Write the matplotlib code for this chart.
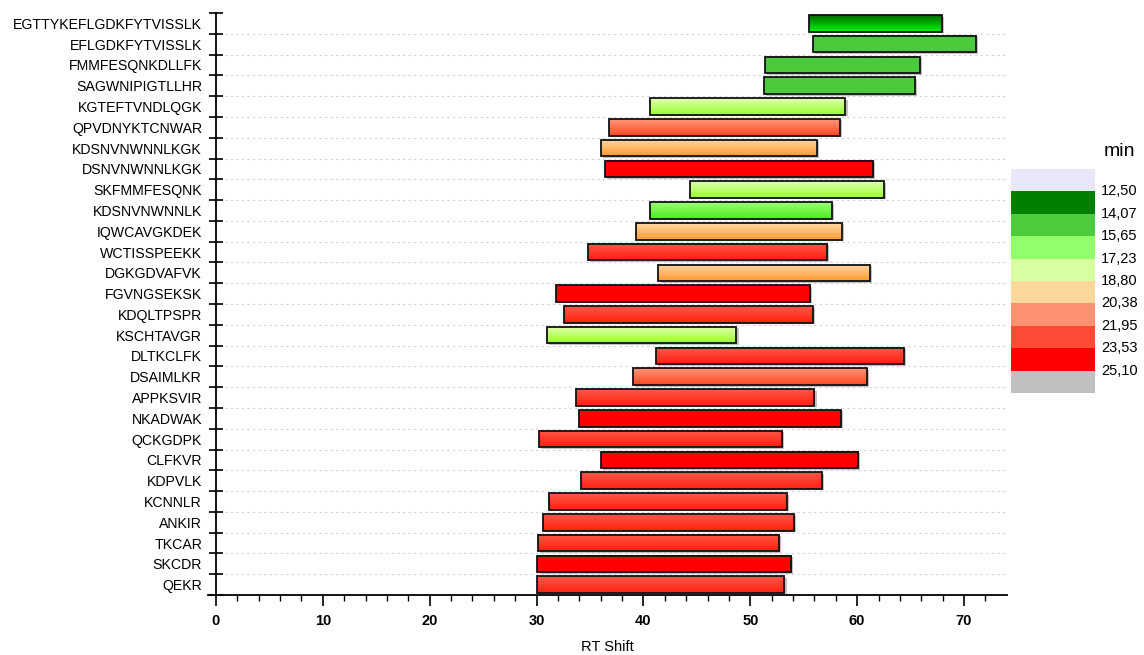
import numpy as np
import matplotlib
matplotlib.use("Agg")
import matplotlib.pyplot as plt
from matplotlib.patches import Rectangle
from matplotlib.colors import to_rgba

plt.rcParams['font.family'] = ['Liberation Sans', 'DejaVu Sans']

# Peptides, top to bottom
peptides = [
    "EGTTYKEFLGDKFYTVISSLK", "EFLGDKFYTVISSLK", "FMMFESQNKDLLFK", "SAGWNIPIGTLLHR",
    "KGTEFTVNDLQGK", "QPVDNYKTCNWAR", "KDSNVNWNNLKGK", "DSNVNWNNLKGK",
    "SKFMMFESQNK", "KDSNVNWNNLK", "IQWCAVGKDEK", "WCTISSPEEKK",
    "DGKGDVAFVK", "FGVNGSEKSK", "KDQLTPSPR", "KSCHTAVGR",
    "DLTKCLFK", "DSAIMLKR", "APPKSVIR", "NKADWAK",
    "QCKGDPK", "CLFKVR", "KDPVLK", "KCNNLR",
    "ANKIR", "TKCAR", "SKCDR", "QEKR",
]

# RT shift window (start, end) for each peptide
rt_start = [55.5, 55.9, 51.4, 51.3, 40.6, 36.8, 36.0, 36.4,
            44.4, 40.6, 39.3, 34.8, 41.4, 31.8, 32.6, 31.0,
            41.2, 39.0, 33.7, 34.0, 30.2, 36.0, 34.2, 31.2,
            30.6, 30.1, 30.0, 30.0]
rt_end = [67.9, 71.1, 65.9, 65.4, 58.9, 58.4, 56.2, 61.5,
          62.5, 57.6, 58.6, 57.2, 61.2, 55.6, 55.9, 48.7,
          64.4, 60.9, 56.0, 58.5, 53.0, 60.1, 56.7, 53.4,
          54.1, 52.7, 53.8, 53.2]

# Retention time (min) used for colouring
rt_min = [13.3, 14.9, 14.9, 14.9, 18.0, 21.2, 19.6, 24.3,
          18.0, 16.4, 19.6, 22.7, 19.6, 24.3, 22.7, 18.0,
          22.7, 21.2, 22.7, 24.3, 22.7, 24.3, 22.7, 22.7,
          22.7, 22.7, 24.3, 22.7]

# Colour scale
scale_edges = [12.50, 14.07, 15.65, 17.23, 18.80, 20.38, 21.95, 23.53, 25.10]
scale_labels = ["12,50", "14,07", "15,65", "17,23", "18,80", "20,38", "21,95", "23,53", "25,10"]
legend_colors = ["#e8e8fa", "#008000", "#4ccc3c", "#92ff6a", "#d8ffa0",
                 "#fdd89c", "#ff9070", "#ff4a35", "#ff0000", "#c0c0c0"]
# Bar shading (top colour, bottom colour) for each bin between edges
bar_shades = [
    ("#006a00", "#00f800"),
    ("#4bca3b", "#4bca3b"),
    ("#9cff74", "#4cec1e"),
    ("#e2ffb4", "#98ff28"),
    ("#ffd8a8", "#ff9a2c"),
    ("#ff967a", "#ff4820"),
    ("#ff5848", "#ff2010"),
    ("#ff0000", "#ff0000"),
]

W, H = 1144, 655
fig = plt.figure(figsize=(W / 100, H / 100), dpi=100)

x_min, x_max = -0.75, 74.0
px_per_unit = 10.686
left_px = 216 + x_min * px_per_unit
right_px = 216 + x_max * px_per_unit
top_px, bottom_px = 13, 595
ax = fig.add_axes([left_px / W, (H - bottom_px) / H,
                   (right_px - left_px) / W, (bottom_px - top_px) / H])

n = len(peptides)
ypos = np.arange(n)[::-1]
bar_h = 0.8

# Row separators
for b in np.arange(0.5, n - 0.5, 1.0):
    ax.axhline(b, color="#d2d2d2", lw=0.8, ls=(0, (2, 3)), zorder=0.5)

for y, s, e, v in zip(ypos, rt_start, rt_end, rt_min):
    k = int(np.clip(np.digitize(v, scale_edges) - 1, 0, len(bar_shades) - 1))
    top_c, bot_c = (np.array(to_rgba(c)) for c in bar_shades[k])
    t = np.linspace(0, 1, 64)[:, None]
    grad = (bot_c[None, :] * (1 - t) + top_c[None, :] * t)[:, None, :]
    # soft drop shadow
    ax.add_patch(Rectangle((s + 0.2, y - bar_h / 2 - 0.07), e - s, bar_h,
                           facecolor="#9a9a9a", edgecolor="none", alpha=0.6, zorder=1))
    ax.imshow(grad, extent=(s, e, y - bar_h / 2, y + bar_h / 2), origin="lower",
              aspect="auto", interpolation="bilinear", zorder=2)
    ax.add_patch(Rectangle((s, y - bar_h / 2), e - s, bar_h, facecolor="none",
                           edgecolor="#111111", lw=1.3, zorder=3))

ax.set_xlim(x_min, x_max)
ax.set_ylim(-0.5, n - 0.5)

for sp in ("top", "right"):
    ax.spines[sp].set_visible(False)
ax.spines["left"].set_position(("data", 0))
ax.spines["left"].set_linewidth(1.3)
ax.spines["bottom"].set_linewidth(1.3)

ax.set_xticks(np.arange(0, 71, 10))
ax.set_xticks(np.arange(0, 74, 2), minor=True)
ax.tick_params(axis="x", which="major", direction="out", length=8, width=1.2,
               labelsize=10.5, pad=6)
ax.tick_params(axis="x", which="minor", direction="out", length=4.5, width=1.0)
for lab in ax.get_xticklabels():
    lab.set_fontweight("bold")

ax.set_yticks(np.arange(-0.5, n, 1.0))
ax.set_yticklabels([])
ax.set_yticks(ypos, minor=True)
ax.set_yticklabels(peptides, minor=True)
ax.tick_params(axis="y", which="major", direction="inout", length=10, width=1.2)
ax.tick_params(axis="y", which="minor", length=0, pad=10, labelsize=10.2)

ax.set_xlabel("RT Shift", fontsize=10.5, labelpad=8)

# Colour scale legend
sw_left, sw_right = 1011, 1095
sw_top, sw_h = 169, 22.4
lax = fig.add_axes([0, 0, 1, 1], facecolor="none")
lax.set_xlim(0, W)
lax.set_ylim(H, 0)
lax.axis("off")
for i, c in enumerate(legend_colors):
    lax.add_patch(Rectangle((sw_left, sw_top + i * sw_h), sw_right - sw_left, sw_h,
                            facecolor=c, edgecolor="none"))
for i, lab in enumerate(scale_labels):
    lax.text(sw_right + 6, sw_top + (i + 1) * sw_h, lab, fontsize=10.5,
             ha="left", va="center")
lax.text(1119, 152, "min", fontsize=14, ha="center", va="center")

fig.savefig("out.png", dpi=100)
